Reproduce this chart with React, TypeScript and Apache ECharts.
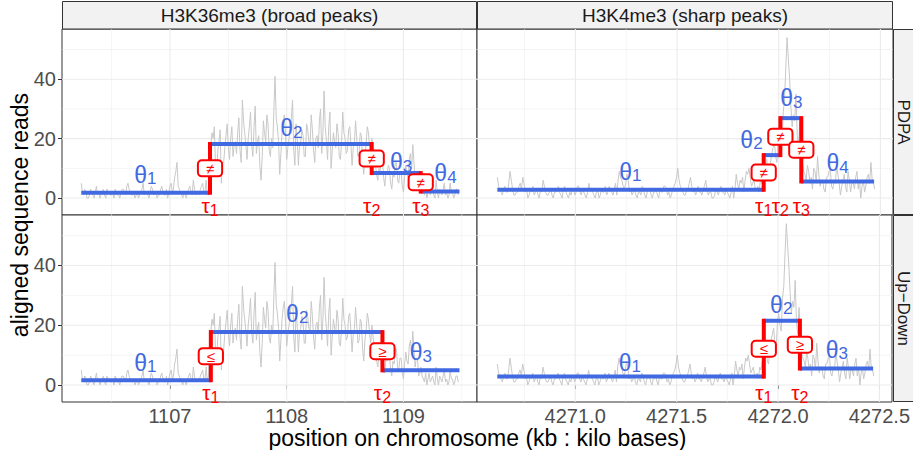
import React, { useEffect, useRef } from "react";
import * as echarts from "echarts";

const FONT = '"Liberation Sans", Arial, Helvetica, sans-serif';
const BLUE = "#4169E1";
const RED = "#FF0000";
const GRAY = "#C8C8C8";

const facetCols = ["H3K36me3 (broad peaks)", "H3K4me3 (sharp peaks)"];
const facetRows = ["PDPA", "Up\u2212Down"];

const yMajor = [0, 20, 40];
const yMinor = [10, 30, 50];
const yRange = [-5.7, 56.9];
const broadXMajor = [1107, 1108, 1109];
const broadXMinor = [1106.5, 1107.5, 1108.5, 1109.5];
const broadXRange = [1106.075, 1109.63];
const sharpXMajor = [4271, 4271.5, 4272, 4272.5];
const sharpXMinor = [4270.75, 4271.25, 4271.75, 4272.25];
const sharpXRange = [4270.516, 4272.562];

// aligned reads (coverage) per bin
const broadStart = 1106.24;
const broadStep = 0.01;
const broadReads = [
  5, 2, 1, 3, 2, 0, 0, 1, 3, 2, 1, 0, 2, 4, 1, 2, 0, 1, 2, 3,
  1, 0, 3, 2, 2, 1, 1, 2, 0, 3, 2, 1, 1, 0, 2, 3, 3, 2, 1, 4,
  5, 3, 2, 1, 1, 2, 0, 1, 2, 0, 1, 2, 3, 5, 1, 2, 2, 1, 0, 2,
  4, 3, 1, 2, 2, 0, 1, 1, 3, 4, 2, 1, 1, 3, 0, 2, 4, 5, 2, 3,
  7, 9, 12, 4, 3, 2, 1, 0, 2, 1, 0, 2, 3, 4, 2, 1, 6, 3, 1, 2,
  2, 1, 3, 4, 5, 2, 2, 6, 1, 3,
  14, 18, 22, 20, 24, 11, 9, 16, 19, 23, 5, 12,
  12, 17, 21, 25, 17, 13, 20, 24, 14, 18, 19, 15, 22, 27, 16, 12, 33, 26, 22, 18,
  13, 20, 24, 29, 18, 14, 24, 31, 15, 19, 21, 11, 6, 14, 26, 22, 19, 28, 25, 16,
  14, 20, 17, 30, 41, 27, 24, 19, 8, 15, 22, 26, 28, 21, 13, 17, 20, 24, 27, 33,
  16, 11, 25, 20, 11, 18, 19, 23, 21, 14, 14, 25, 23, 19, 18, 28, 23, 16, 12, 20,
  21, 17, 26, 30, 15, 22, 36, 24, 19, 13, 24, 29, 10, 16, 22, 19, 17, 25, 22, 14,
  13, 19, 29, 22, 20, 15, 16, 23, 24, 18, 11, 17, 19, 26, 20, 14, 15, 22, 21, 12,
  8, 15, 18, 24, 22, 17, 14, 20,
  16, 13, 11, 8, 6, 10, 9, 14, 13, 7, 4, 9, 8, 11, 10, 5, 3, 8, 7, 12,
  12, 6, 5, 9, 9, 4, 2, 7, 11, 8, 7, 13, 15, 10, 18, 12, 6, 9, 9, 3, 4, 6,
  3, 2, 1, 4, 0, 2, 4, 1, 2, 3, 1, 0, 6, 2, 0, 3, 2, 1, 3, 5,
  1, 2, 0, 1, 5, 2, 2, 0, 1, 3, 3, 1,
];

const sharpStart = 4270.616;
const sharpStep = 0.00625;
const sharpReads = [
  7, 4, 3, 2, 1, 3, 4, 2, 2, 5, 9, 6, 3, 1, 1, 2, 2, 4, 5, 3, 7, 5, 2, 3, 0, 1, 3, 2, 4, 1, 2, 3, 1, 0, 3, 2, 6, 4, 2, 1,
  1, 2, 3, 1, 0, 2, 2, 3, 4, 2, 1, 0, 3, 4, 2, 1, 0, 2, 1, 3, 3, 1, 2, 4, 4, 2, 1, 3, 2, 1, 0, 2, 5, 3, 3, 2, 1, 0, 2, 3,
  0, 1, 3, 2, 2, 4, 1, 2, 4, 3, 2, 1, 3, 5, 1, 6, 9, 7, 6, 4, 3, 5, 8, 6, 2, 3, 1, 2, 3, 1, 0, 2, 2, 1, 4, 3, 1, 0, 2, 3,
  3, 1, 0, 2, 2, 3, 1, 0, 3, 2, 2, 4, 4, 3, 1, 2, 0, 1, 3, 4, 5, 7, 10, 6, 4, 3, 2, 1, 1, 3, 3, 5, 7, 4, 2, 3, 1, 2, 4, 2,
  2, 1, 3, 4, 6, 3, 1, 2, 2, 0, 0, 1, 3, 2, 1, 3, 4, 2, 2, 1, 3, 2, 1, 0, 2, 4, 0, 3, 8, 5, 3, 6, 5, 7, 2, 6, 9, 8, 10, 7,
  4, 5, 6, 3, 3, 4, 2, 6, 5, 8,
  9, 11, 13, 8, 7, 12, 15, 17, 19, 14, 12, 21, 24, 20, 18, 29, 33, 44, 54, 47, 40, 31, 24, 28, 26, 35, 21, 17, 26, 19, 12, 9,
  8, 6, 11, 9, 5, 7, 3, 10, 9, 5, 14, 8, 4, 6, 6, 3, 2, 7, 7, 9, 10, 4, 3, 6, 5, 11, 8, 5, 1, 4, 6, 8, 4, 2, 9, 6, 2, 5, 5, 3,
  7, 9, 3, 6, 0, 4, 6, 2, 4, 7, 8, 5, 12, 6, 5, 3,
];

// segmentation models
const broadPdpaStarts = [1106.24, 1107.343, 1108.728, 1109.148];
const broadPdpaEnds = [1107.343, 1108.728, 1109.148, 1109.48];
const broadPdpaMeans = [1.8, 18.2, 8.4, 2.2];
const broadUdStarts = [1106.24, 1107.35, 1108.82];
const broadUdEnds = [1107.35, 1108.82, 1109.48];
const broadUdMeans = [1.6, 17.7, 4.9];
const sharpPdpaStarts = [4270.616, 4271.926, 4272.008, 4272.111];
const sharpPdpaEnds = [4271.926, 4272.008, 4272.111, 4272.469];
const sharpPdpaMeans = [2.8, 14.45, 26.9, 5.6];
const sharpUdStarts = [4270.616, 4271.93, 4272.108];
const sharpUdEnds = [4271.93, 4272.108, 4272.469];
const sharpUdMeans = [2.8, 21.5, 5.5];

const pdpaSigns = ["\u2260", "\u2260", "\u2260"];
const udSigns = ["\u2264", "\u2265"];

// theta label anchors (data units)
const broadPdpaThetaX = [1106.79, 1108.04, 1108.98, 1109.36];
const broadPdpaThetaY = [7.8, 23.5, 12.1, 8.4];
const broadUdThetaX = [1106.79, 1108.09, 1109.15];
const broadUdThetaY = [7.5, 23.8, 10.9];
const sharpPdpaThetaX = [4271.27, 4271.866, 4272.062, 4272.29];
const sharpPdpaThetaY = [8.9, 19.6, 33.6, 11.8];
const sharpUdThetaX = [4271.27, 4272.016, 4272.29];
const sharpUdThetaY = [7.5, 26.9, 11.8];
const tauLabelY = -2.4;

const colLeft = [62, 477];
const colWidth = [415, 416];
const rowTop = [29, 215];
const rowHeight = [186, 187];

type Panel = {
  row: number;
  col: number;
  reads: number[];
  start: number;
  step: number;
  starts: number[];
  ends: number[];
  means: number[];
  signs: string[];
  thetaX: number[];
  thetaY: number[];
};

const panels: Panel[] = [
  { row: 0, col: 0, reads: broadReads, start: broadStart, step: broadStep, starts: broadPdpaStarts, ends: broadPdpaEnds, means: broadPdpaMeans, signs: pdpaSigns, thetaX: broadPdpaThetaX, thetaY: broadPdpaThetaY },
  { row: 0, col: 1, reads: sharpReads, start: sharpStart, step: sharpStep, starts: sharpPdpaStarts, ends: sharpPdpaEnds, means: sharpPdpaMeans, signs: pdpaSigns, thetaX: sharpPdpaThetaX, thetaY: sharpPdpaThetaY },
  { row: 1, col: 0, reads: broadReads, start: broadStart, step: broadStep, starts: broadUdStarts, ends: broadUdEnds, means: broadUdMeans, signs: udSigns, thetaX: broadUdThetaX, thetaY: broadUdThetaY },
  { row: 1, col: 1, reads: sharpReads, start: sharpStart, step: sharpStep, starts: sharpUdStarts, ends: sharpUdEnds, means: sharpUdMeans, signs: udSigns, thetaX: sharpUdThetaX, thetaY: sharpUdThetaY },
];

function buildOption() {
  const grids: any[] = [];
  const xAxes: any[] = [];
  const yAxes: any[] = [];
  const series: any[] = [];

  panels.forEach((p, gi) => {
    const isBroad = p.col === 0;
    const isBottom = p.row === 1;
    const isLeft = p.col === 0;
    const xMajor = isBroad ? broadXMajor : sharpXMajor;
    const xMinor = isBroad ? broadXMinor : sharpXMinor;
    const xr = isBroad ? broadXRange : sharpXRange;

    grids.push({
      left: colLeft[p.col],
      top: rowTop[p.row],
      width: colWidth[p.col],
      height: rowHeight[p.row],
      show: true,
      backgroundColor: "#FFFFFF",
      borderColor: "#333333",
      borderWidth: 1,
    });

    xAxes.push({
      type: "value",
      gridIndex: gi,
      min: xr[0],
      max: xr[1],
      axisLine: { show: false },
      splitLine: { show: false },
      axisTick: { show: isBottom, length: 4, lineStyle: { color: "#333333", width: 1 }, customValues: xMajor },
      axisLabel: {
        show: isBottom,
        customValues: xMajor,
        color: "#4D4D4D",
        fontSize: 20,
        lineHeight: 20,
        fontFamily: FONT,
        margin: 4,
        formatter: (v: number) => (isBroad ? String(v) : v.toFixed(1)),
      },
    });

    yAxes.push({
      type: "value",
      gridIndex: gi,
      min: yRange[0],
      max: yRange[1],
      axisLine: { show: false },
      splitLine: { show: false },
      axisTick: { show: isLeft, length: 4, lineStyle: { color: "#333333", width: 1 }, customValues: yMajor },
      axisLabel: {
        show: isLeft,
        customValues: yMajor,
        color: "#4D4D4D",
        fontSize: 20,
        fontFamily: FONT,
        margin: 6,
      },
    });

    const common = { xAxisIndex: gi, yAxisIndex: gi, silent: true };

    // vertical grid lines
    series.push({
      ...common,
      type: "custom",
      z: 1,
      data: [...xMinor.map((v) => [v, 0, 0]), ...xMajor.map((v) => [v, 0, 1])],
      encode: { x: 0, y: 1 },
      renderItem: (params: any, api: any) => {
        const cs = params.coordSys;
        const x = api.coord([api.value(0), 0])[0];
        return {
          type: "line",
          shape: { x1: x, y1: cs.y, x2: x, y2: cs.y + cs.height },
          style: { stroke: "#EBEBEB", lineWidth: api.value(2) ? 1.1 : 0.55 },
        };
      },
    });
    // horizontal grid lines
    series.push({
      ...common,
      type: "custom",
      z: 1,
      data: [...yMinor.map((v) => [xr[0], v, 0]), ...yMajor.map((v) => [xr[0], v, 1])],
      encode: { x: 0, y: 1 },
      renderItem: (params: any, api: any) => {
        const cs = params.coordSys;
        const y = api.coord([api.value(0), api.value(1)])[1];
        return {
          type: "line",
          shape: { x1: cs.x, y1: y, x2: cs.x + cs.width, y2: y },
          style: { stroke: "#EBEBEB", lineWidth: api.value(2) ? 1.1 : 0.55 },
        };
      },
    });

    // coverage
    series.push({
      ...common,
      type: "line",
      z: 2,
      data: p.reads.map((v, i) => [p.start + i * p.step, v]),
      showSymbol: false,
      symbol: "none",
      lineStyle: { color: GRAY, width: 1 },
    });

    // segment means
    series.push({
      ...common,
      type: "custom",
      z: 3,
      data: p.starts.map((s, i) => [s, p.ends[i], p.means[i]]),
      encode: { x: [0, 1], y: 2 },
      renderItem: (params: any, api: any) => {
        const a = api.coord([api.value(0), api.value(2)]);
        const b = api.coord([api.value(1), api.value(2)]);
        return {
          type: "line",
          shape: { x1: a[0], y1: a[1], x2: b[0], y2: b[1] },
          style: { stroke: BLUE, lineWidth: 4 },
        };
      },
    });

    const taus = p.starts.slice(1);

    // changepoints
    series.push({
      ...common,
      type: "custom",
      z: 4,
      data: taus.map((t, i) => [t, p.means[i], p.means[i + 1]]),
      encode: { x: 0, y: [1, 2] },
      renderItem: (params: any, api: any) => {
        const a = api.coord([api.value(0), api.value(1)]);
        const b = api.coord([api.value(0), api.value(2)]);
        return {
          type: "line",
          shape: { x1: a[0], y1: a[1], x2: b[0], y2: b[1] },
          style: { stroke: RED, lineWidth: 4, lineCap: "square" },
        };
      },
    });

    // constraint boxes
    series.push({
      ...common,
      type: "custom",
      z: 5,
      data: taus.map((t, i) => [t, (p.means[i] + p.means[i + 1]) / 2]),
      encode: { x: 0, y: 1 },
      renderItem: (params: any, api: any) => {
        const c = api.coord([api.value(0), api.value(1)]);
        return {
          type: "text",
          x: c[0],
          y: c[1],
          style: {
            text: p.signs[params.dataIndex],
            fill: RED,
            fontSize: 15,
            fontFamily: FONT,
            lineHeight: 12,
            align: "center",
            verticalAlign: "middle",
            backgroundColor: "#FFFFFF",
            borderColor: RED,
            borderWidth: 2,
            borderRadius: 3,
            padding: [1, 7, 1, 7],
          },
        };
      },
    });

    // theta labels
    series.push({
      ...common,
      type: "custom",
      z: 5,
      data: p.thetaX.map((x, i) => [x, p.thetaY[i]]),
      encode: { x: 0, y: 1 },
      renderItem: (params: any, api: any) => {
        const c = api.coord([api.value(0), api.value(1)]);
        return {
          type: "text",
          x: c[0],
          y: c[1],
          style: {
            text: `{a|\u03b8}{b|${params.dataIndex + 1}}`,
            fill: BLUE,
            align: "center",
            verticalAlign: "middle",
            rich: {
              a: { fontSize: 23, fontFamily: FONT, fill: BLUE, lineHeight: 26 },
              b: { fontSize: 17, fontFamily: FONT, fill: BLUE, padding: [8, 0, 0, 0], lineHeight: 18 },
            },
          },
        };
      },
    });

    // tau labels
    series.push({
      ...common,
      type: "custom",
      z: 5,
      data: taus.map((t) => [t, tauLabelY]),
      encode: { x: 0, y: 1 },
      renderItem: (params: any, api: any) => {
        const c = api.coord([api.value(0), api.value(1)]);
        return {
          type: "text",
          x: c[0],
          y: c[1],
          style: {
            text: `{a|\u03c4}{b|${params.dataIndex + 1}}`,
            fill: RED,
            align: "center",
            verticalAlign: "middle",
            rich: {
              a: { fontSize: 21, fontFamily: FONT, fill: RED, lineHeight: 24 },
              b: { fontSize: 16, fontFamily: FONT, fill: RED, padding: [10, 0, 0, 0], lineHeight: 17 },
            },
          },
        };
      },
    });
  });

  const graphic: any[] = [];
  facetCols.forEach((t, c) => {
    graphic.push({
      type: "rect",
      silent: true,
      shape: { x: colLeft[c] + 0.5, y: 1.5, width: colWidth[c] - 1, height: 27.5 },
      style: { fill: "#F2F2F2", stroke: "#333333", lineWidth: 1 },
    });
    graphic.push({
      type: "text",
      silent: true,
      x: colLeft[c] + colWidth[c] / 2,
      y: 15.5,
      style: { text: t, fill: "#1A1A1A", fontSize: 19, fontFamily: FONT, align: "center", verticalAlign: "middle" },
    });
  });
  facetRows.forEach((t, r) => {
    graphic.push({
      type: "rect",
      silent: true,
      shape: { x: 893.5, y: rowTop[r] + 0.5, width: 24, height: rowHeight[r] - 1 },
      style: { fill: "#F2F2F2", stroke: "#333333", lineWidth: 1 },
    });
    graphic.push({
      type: "text",
      silent: true,
      x: 903,
      y: rowTop[r] + rowHeight[r] / 2,
      rotation: -Math.PI / 2,
      style: { text: t, fill: "#1A1A1A", fontSize: 17, fontFamily: FONT, align: "center", verticalAlign: "middle" },
    });
  });
  graphic.push({
    type: "text",
    silent: true,
    x: 20,
    y: 215,
    rotation: Math.PI / 2,
    style: { text: "aligned sequence reads", fill: "#000000", fontSize: 23, fontFamily: FONT, align: "center", verticalAlign: "middle" },
  });
  graphic.push({
    type: "text",
    silent: true,
    x: 477.5,
    y: 438,
    style: { text: "position on chromosome (kb : kilo bases)", fill: "#000000", fontSize: 23, lineHeight: 22, fontFamily: FONT, align: "center", verticalAlign: "middle" },
  });

  return {
    animation: false,
    backgroundColor: "#FFFFFF",
    textStyle: { fontFamily: FONT },
    grid: grids,
    xAxis: xAxes,
    yAxis: yAxes,
    series,
    graphic,
  };
}

export default function App() {
  const ref = useRef<HTMLDivElement>(null);
  useEffect(() => {
    if (!ref.current) return;
    const chart = echarts.init(ref.current, undefined, { renderer: "svg" });
    chart.setOption(buildOption() as any);
    return () => chart.dispose();
  }, []);
  return (
    <div
      ref={ref}
      style={{ position: "absolute", left: 0, top: 0, width: 913, height: 450, background: "#FFFFFF" }}
    />
  );
}
